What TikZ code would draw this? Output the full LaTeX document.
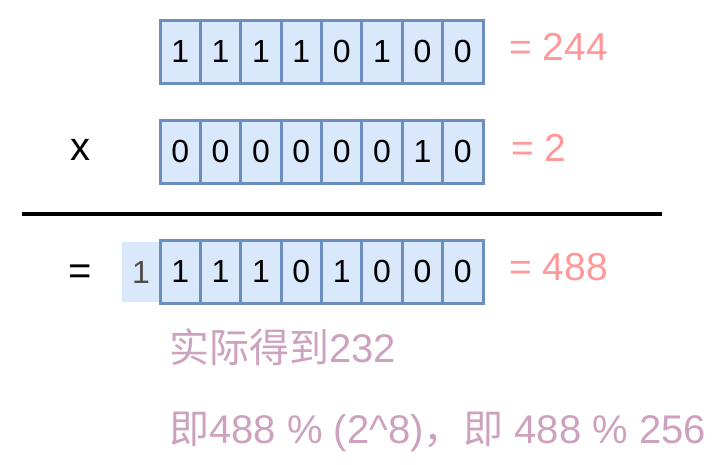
\documentclass[tikz,border=0pt]{standalone}
\usepackage{fontspec}
\setmainfont{Liberation Sans}
\newfontfamily\cjk{Noto Sans CJK SC}
\definecolor{cellfill}{HTML}{DAE8FC}
\definecolor{celldraw}{HTML}{6C8EBF}
\definecolor{pinktxt}{HTML}{FF9999}
\definecolor{purptxt}{HTML}{CDA2BE}
\definecolor{graydigit}{HTML}{4D4D4D}
\tikzset{
  bitcell/.style={draw=celldraw, fill=cellfill, line width=3pt, minimum width=40.375pt, minimum height=63pt, inner sep=0pt, font=\fontsize{32}{38}\selectfont},
  carrycell/.style={fill=cellfill, minimum width=38pt, minimum height=60pt, inner sep=0pt, text=graydigit, font=\fontsize{32}{38}\selectfont},
  eqlabel/.style={anchor=base west, inner sep=0pt, text=pinktxt, font=\fontsize{39}{46}\selectfont},
  optxt/.style={anchor=base, inner sep=0pt, font=\fontsize{40}{46}\selectfont},
  note/.style={anchor=base west, inner sep=0pt, text=purptxt, font=\fontsize{40}{46}\selectfont}
}
\begin{document}
\begin{tikzpicture}[x=1pt,y=-1pt]
\useasboundingbox (0,0) rectangle (728,464);
% row 1
\foreach \v [count=\i] in {1,1,1,1,0,1,0,0}
  \node[bitcell] (a\i) at ({160+(\i-0.5)*40.375},51.5) {\v};
% row 2
\foreach \v [count=\i] in {0,0,0,0,0,0,1,0}
  \node[bitcell] (b\i) at ({160+(\i-0.5)*40.375},151.5) {\v};
% row 3
\node[carrycell] (c0) at (141,272) {1};
\foreach \v [count=\i] in {1,1,1,0,1,0,0,0}
  \node[bitcell] (c\i) at ({160+(\i-0.5)*40.375},271.5) {\v};
% labels
\node[eqlabel] (l1) at (509,60) {= 244};
\node[eqlabel] (l2) at (511,161) {= 2};
\node[eqlabel] (l3) at (509,280) {= 488};
\node[optxt] (times) at (80,160) {x};
\node[optxt] (equals) at (80,284) {=};
% rule
\coordinate (ruleL) at (22,214);
\coordinate (ruleR) at (662,214);
\draw[line width=4pt] (ruleL) -- (ruleR);
% notes
\node[note] (n1) at (169,362) {{\cjk 实际得到}232};
\node[note] (n2) at (169,443) {{\cjk 即}488 \% (2\^{}8){\cjk ，即} 488 \% 256};
\end{tikzpicture}
\end{document}
